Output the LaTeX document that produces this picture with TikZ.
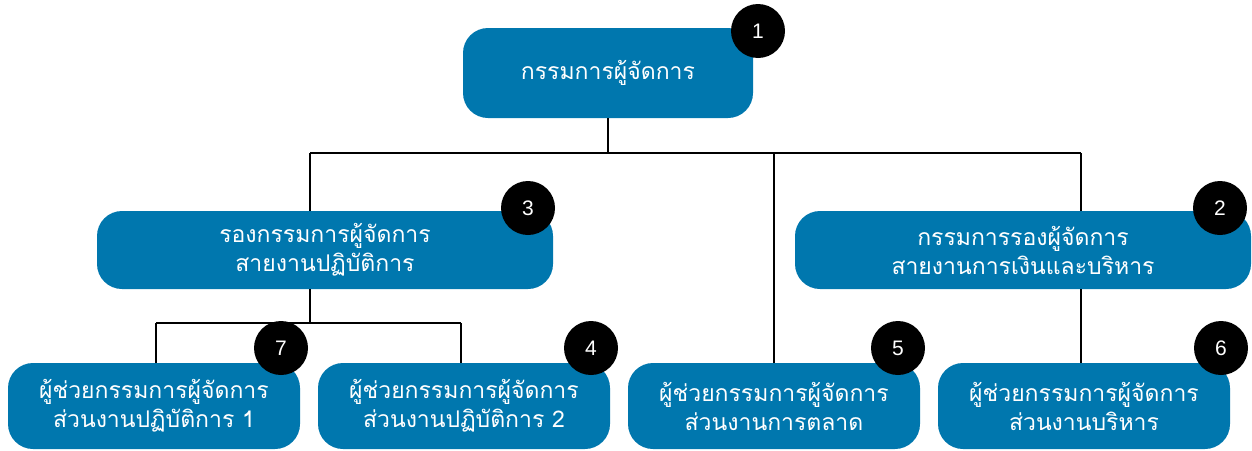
\documentclass[tikz,border=0pt]{standalone}
\usepackage{fontspec}
\setmainfont{Liberation Sans}
\newfontfamily\thaifont[Script=Thai]{Loma}
\definecolor{boxblue}{RGB}{0,119,174}
\begin{document}
\begin{tikzpicture}[x=1pt,y=-1pt,
  orgbox/.style={fill=boxblue,rounded corners=25pt,text=white,align=center,
    font=\thaifont\fontsize{23}{29}\selectfont,inner sep=0pt},
  badge/.style={circle,fill=black,text=white,minimum size=54pt,inner sep=0pt,
    font=\fontsize{21}{21}\selectfont},
  conn/.style={line width=2pt,black}]
\useasboundingbox (0,0) rectangle (1252,450);
% junction points
\coordinate (jl) at (310,153);
\coordinate (jm) at (774,153);
\coordinate (jr) at (1081,153);
\coordinate (k0) at (310,323);
\coordinate (kl) at (156,323);
\coordinate (kr) at (461,323);
% boxes
\node[orgbox,minimum width=290pt,minimum height=90pt] (n1) at (608,73) {กรรมการผู้จัดการ};
\node[orgbox,minimum width=456pt,minimum height=78pt] (n3) at (325,250) {รองกรรมการผู้จัดการ\\สายงานปฏิบัติการ};
\node[orgbox,minimum width=456pt,minimum height=78pt] (n2) at (1023,250) {กรรมการรองผู้จัดการ\\สายงานการเงินและบริหาร};
\node[orgbox,minimum width=292pt,minimum height=86pt] (n7) at (154,406) {ผู้ช่วยกรรมการผู้จัดการ\\ส่วนงานปฏิบัติการ 1};
\node[orgbox,minimum width=292pt,minimum height=86pt] (n4) at (464,406) {ผู้ช่วยกรรมการผู้จัดการ\\ส่วนงานปฏิบัติการ 2};
\node[orgbox,minimum width=292pt,minimum height=86pt] (n5) at (774,406) {ผู้ช่วยกรรมการผู้จัดการ\\ส่วนงานการตลาด};
\node[orgbox,minimum width=292pt,minimum height=86pt] (n6) at (1084,406) {ผู้ช่วยกรรมการผู้จัดการ\\ส่วนงานบริหาร};
% connectors
\draw[conn] (n1.south) -- (n1.south |- jl);
\draw[conn] (jl) -- (jr);
\draw[conn] (jl) -- (n3.north -| jl);
\draw[conn] (jm) -- (n5.north -| jm);
\draw[conn] (jr) -- (n2.north -| jr);
\draw[conn] (n3.south -| k0) -- (k0);
\draw[conn] (kl) -- (kr);
\draw[conn] (kl) -- (n7.north -| kl);
\draw[conn] (kr) -- (n4.north -| kr);
\draw[conn] (n2.south -| jr) -- (n6.north -| jr);
% badges
\node[badge] (b1) at (758,31) {1};
\node[badge] (b3) at (528,208) {3};
\node[badge] (b2) at (1220,208) {2};
\node[badge] (b7) at (281,348) {7};
\node[badge] (b4) at (591,348) {4};
\node[badge] (b5) at (898,348) {5};
\node[badge] (b6) at (1221,348) {6};
\end{tikzpicture}
\end{document}
